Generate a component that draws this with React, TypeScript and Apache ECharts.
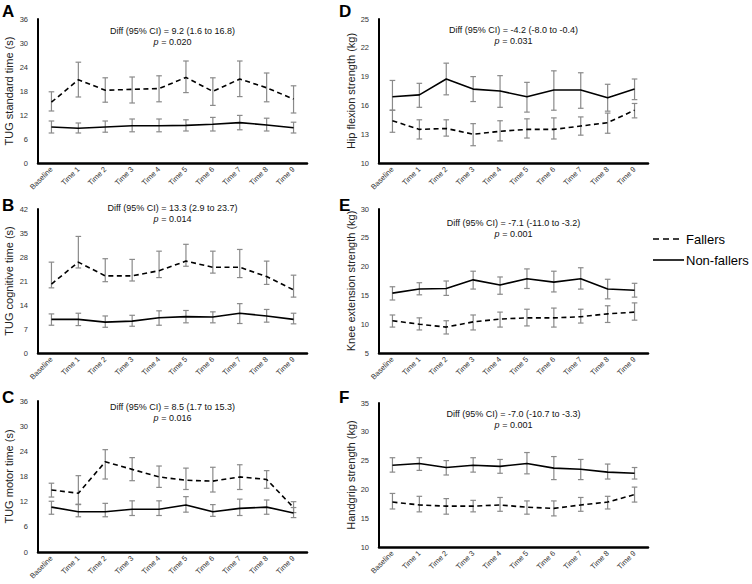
import React, { useEffect, useRef } from "react";
import * as echarts from "echarts";

const CATEGORIES = ["Baseline", "Time 1", "Time 2", "Time 3", "Time 4", "Time 5", "Time 6", "Time 7", "Time 8", "Time 9"];

// [mean, lower, upper]
const A_FALLERS = [[15.2, 13.0, 17.8], [20.8, 16.5, 25.2], [18.2, 15.2, 21.3], [18.4, 15.0, 21.5], [18.6, 15.3, 21.8], [21.4, 17.6, 25.5], [17.9, 14.4, 21.3], [21.0, 16.6, 25.5], [18.8, 15.3, 22.5], [16.0, 12.5, 19.3]];
const A_NON = [[9.0, 7.5, 10.5], [8.7, 7.5, 10.0], [9.0, 7.7, 10.5], [9.3, 7.8, 11.0], [9.3, 7.8, 11.0], [9.4, 8.0, 10.8], [9.7, 8.0, 11.4], [10.1, 8.3, 11.9], [9.5, 8.0, 11.2], [8.8, 7.5, 10.2]];
const B_FALLERS = [[20.1, 19.0, 26.5], [26.5, 24.8, 34.0], [22.5, 20.8, 27.5], [22.5, 21.0, 27.3], [24.0, 22.0, 29.7], [26.8, 25.3, 31.7], [25.0, 23.3, 29.7], [25.0, 22.0, 30.2], [22.3, 20.0, 26.8], [18.4, 16.3, 22.7]];
const B_NON = [[9.8, 8.1, 11.4], [9.8, 8.0, 11.6], [9.0, 7.5, 10.8], [9.3, 7.8, 11.0], [10.3, 8.1, 12.3], [10.6, 8.8, 12.4], [10.5, 8.8, 12.0], [11.6, 8.6, 14.4], [10.8, 9.0, 12.7], [9.8, 8.5, 11.6]];
const C_FALLERS = [[14.8, 13.1, 16.4], [14.0, 11.4, 18.2], [21.5, 17.4, 24.4], [19.7, 17.0, 22.5], [17.9, 15.4, 20.5], [17.1, 14.9, 20.0], [16.9, 14.3, 20.2], [17.9, 14.9, 20.8], [17.3, 15.2, 19.4], [10.6, 9.4, 12.0]];
const C_NON = [[10.7, 9.0, 12.1], [9.6, 8.4, 11.3], [9.6, 8.4, 11.6], [10.2, 8.7, 12.2], [10.2, 8.7, 12.2], [11.2, 9.5, 13.2], [9.6, 8.5, 11.3], [10.4, 8.7, 12.6], [10.7, 9.0, 12.4], [9.3, 8.2, 10.6]];
const D_FALLERS = [[14.4, 13.2, 15.5], [13.5, 12.5, 14.5], [13.6, 12.8, 14.5], [13.0, 11.8, 14.1], [13.3, 12.3, 14.4], [13.5, 12.6, 14.6], [13.5, 12.5, 14.7], [13.85, 12.9, 14.8], [14.2, 13.1, 15.2], [15.5, 14.7, 16.2]];
const D_NON = [[16.9, 15.5, 18.6], [17.1, 15.8, 18.3], [18.75, 17.1, 20.4], [17.7, 16.4, 19.0], [17.5, 15.8, 19.1], [16.9, 15.3, 18.4], [17.6, 15.5, 19.6], [17.6, 15.7, 19.4], [16.8, 15.4, 18.2], [17.7, 16.6, 18.75]];
const E_FALLERS = [[10.6, 9.5, 11.6], [10.0, 9.0, 11.1], [9.5, 8.3, 10.6], [10.4, 9.0, 11.6], [10.9, 9.5, 12.1], [11.1, 9.7, 12.6], [11.1, 9.5, 12.8], [11.3, 10.2, 12.6], [11.8, 10.3, 13.2], [12.1, 10.7, 13.7]];
const E_NON = [[15.4, 14.2, 16.5], [16.1, 15.1, 17.2], [16.2, 15.0, 17.5], [17.7, 16.1, 19.2], [16.8, 15.2, 18.2], [17.9, 16.2, 19.6], [17.3, 15.6, 19.2], [17.9, 16.1, 19.8], [16.1, 14.4, 17.8], [15.9, 14.7, 17.1]];
const F_FALLERS = [[17.8, 16.6, 19.3], [17.3, 16.1, 18.8], [17.1, 15.7, 18.4], [17.1, 16.1, 18.1], [17.3, 16.2, 18.6], [16.9, 15.7, 18.0], [16.7, 15.4, 18.0], [17.3, 16.2, 18.6], [17.8, 16.6, 18.8], [19.1, 17.8, 20.4]];
const F_NON = [[24.2, 23.0, 25.5], [24.5, 23.3, 25.5], [23.8, 22.5, 25.0], [24.2, 23.0, 25.5], [24.0, 22.8, 25.2], [24.5, 22.7, 26.4], [23.7, 21.7, 25.7], [23.5, 21.7, 25.2], [23.0, 21.8, 24.4], [22.8, 21.8, 23.8]];

const Y_RANGES = {
  A: [0, 36, 6], B: [0, 42, 7], C: [0, 36, 6],
  D: [10, 25, 3], E: [5, 30, 5], F: [10, 35, 5],
};
const Y_NAMES = {
  A: "TUG standard time (s)", B: "TUG cognitive time (s)", C: "TUG motor time (s)",
  D: "Hip flexion strength (kg)", E: "Knee extension strength (kg)", F: "Handgrip strength (kg)",
};
const DIFFS = {
  A: ["Diff (95% CI) = 9.2 (1.6 to 16.8)", "0.020"],
  B: ["Diff (95% CI) = 13.3 (2.9 to 23.7)", "0.014"],
  C: ["Diff (95% CI) = 8.5 (1.7 to 15.3)", "0.016"],
  D: ["Diff (95% CI) = -4.2 (-8.0 to -0.4)", "0.031"],
  E: ["Diff (95% CI) = -7.1 (-11.0 to -3.2)", "0.001"],
  F: ["Diff (95% CI) = -7.0 (-10.7 to -3.3)", "0.001"],
};
const LEGEND = ["Fallers", "Non-fallers"];

const FONT = "'Liberation Sans', Arial, Helvetica, sans-serif";

// layout
const LAYOUT = {
  A: { left: 38, top: 19, height: 144, letter: [2, 3], diffY: 31 },
  B: { left: 38, top: 209, height: 144, letter: [2, 197], diffY: 208 },
  C: { left: 38, top: 401, height: 151, letter: [2, 389], diffY: 407 },
  D: { left: 379, top: 19, height: 144, letter: [339, 3], diffY: 30 },
  E: { left: 379, top: 209, height: 144, letter: [339, 197], diffY: 223 },
  F: { left: 379, top: 403, height: 144, letter: [339, 389], diffY: 414 },
};
const PLOT_W = 269;

const DATA = {
  A: [A_FALLERS, A_NON], B: [B_FALLERS, B_NON], C: [C_FALLERS, C_NON],
  D: [D_FALLERS, D_NON], E: [E_FALLERS, E_NON], F: [F_FALLERS, F_NON],
};

function errRender(params: any, api: any) {
  const x = api.value(0);
  const lo = api.value(1);
  const hi = api.value(2);
  const a = api.coord([x, lo]);
  const b = api.coord([x, hi]);
  const cap = 2.8;
  const style = { stroke: "#8a8a8a", lineWidth: 1.2 };
  return {
    type: "group",
    children: [
      { type: "line", shape: { x1: a[0], y1: a[1], x2: b[0], y2: b[1] }, style },
      { type: "line", shape: { x1: a[0] - cap, y1: a[1], x2: a[0] + cap, y2: a[1] }, style },
      { type: "line", shape: { x1: b[0] - cap, y1: b[1], x2: b[0] + cap, y2: b[1] }, style },
    ],
  };
}

function buildOption() {
  const keys = ["A", "B", "C", "D", "E", "F"];
  const grid: any[] = [];
  const xAxis: any[] = [];
  const yAxis: any[] = [];
  const series: any[] = [];
  const graphic: any[] = [];

  keys.forEach((k, i) => {
    const L = (LAYOUT as any)[k];
    const [min, max, step] = (Y_RANGES as any)[k];
    const base = min;
    grid.push({ left: L.left, top: L.top, width: PLOT_W, height: L.height });
    xAxis.push({
      type: "category",
      gridIndex: i,
      data: CATEGORIES,
      boundaryGap: true,
      axisTick: { show: false },
      axisLine: { lineStyle: { color: "#000", width: 2.5 } },
      axisLabel: { rotate: 45, interval: 0, fontSize: 7.5, color: "#333", fontFamily: FONT, margin: 5 },
    });
    yAxis.push({
      type: "value",
      gridIndex: i,
      min: 0,
      max: max - min,
      interval: step,
      splitLine: { show: false },
      axisTick: { show: false },
      axisLine: { show: true, lineStyle: { color: "#000", width: 2 } },
      axisLabel: { fontSize: 7.5, color: "#333", fontFamily: FONT, margin: 10, formatter: (v: number) => String(v + base) },
      name: (Y_NAMES as any)[k],
      nameLocation: "middle",
      nameGap: i < 3 ? 24 : 21,
      nameTextStyle: { fontSize: 11, color: "#222", fontFamily: FONT },
    });
    const [fallers, non] = (DATA as any)[k];
    [fallers, non].forEach((arr: number[][], j: number) => {
      series.push({
        type: "custom",
        xAxisIndex: i,
        yAxisIndex: i,
        renderItem: errRender,
        encode: { x: 0, y: [1, 2] },
        data: arr.map((d, idx) => [idx, d[1] - base, d[2] - base]),
        z: 1,
        silent: true,
      });
      series.push({
        type: "line",
        name: LEGEND[j],
        xAxisIndex: i,
        yAxisIndex: i,
        data: arr.map((d) => d[0] - base),
        symbol: "none",
        lineStyle: { color: "#000", width: 1.6, type: j === 0 ? [5, 3.5] : "solid" },
        z: 3,
        silent: true,
      });
    });

    const cx = L.left + PLOT_W / 2;
    const [diff, p] = (DIFFS as any)[k];
    graphic.push({
      type: "text",
      x: cx,
      y: L.diffY,
      style: { text: diff, fontSize: 9, fontFamily: FONT, fill: "#111", align: "center", verticalAlign: "middle" },
    });
    graphic.push({
      type: "text",
      x: cx,
      y: L.diffY + 10.5,
      style: {
        text: "{i|p} = " + p,
        fontSize: 9,
        fontFamily: FONT,
        fill: "#111",
        align: "center",
        verticalAlign: "middle",
        rich: { i: { fontStyle: "italic", fontSize: 9, fontFamily: FONT, fill: "#111" } },
      },
    });
    graphic.push({
      type: "text",
      x: L.letter[0],
      y: L.letter[1],
      style: { text: k, fontSize: 17, fontWeight: "bold", fontFamily: FONT, fill: "#000", align: "left", verticalAlign: "top" },
    });
  });

  // legend
  const lx = 653;
  graphic.push({
    type: "line",
    shape: { x1: lx, y1: 239, x2: lx + 30, y2: 239 },
    style: { stroke: "#000", lineWidth: 1.6, lineDash: [6, 4] },
  });
  graphic.push({
    type: "text",
    x: lx + 33,
    y: 239,
    style: { text: LEGEND[0], fontSize: 13, fontFamily: FONT, fill: "#000", align: "left", verticalAlign: "middle" },
  });
  graphic.push({
    type: "line",
    shape: { x1: lx, y1: 260, x2: lx + 31, y2: 260 },
    style: { stroke: "#000", lineWidth: 1.6 },
  });
  graphic.push({
    type: "text",
    x: lx + 33,
    y: 260,
    style: { text: LEGEND[1], fontSize: 13, fontFamily: FONT, fill: "#000", align: "left", verticalAlign: "middle" },
  });

  return {
    animation: false,
    backgroundColor: "#fff",
    textStyle: { fontFamily: FONT },
    grid,
    xAxis,
    yAxis,
    series,
    graphic,
  };
}

export default function App() {
  const ref = useRef<HTMLDivElement>(null);
  useEffect(() => {
    if (!ref.current) return;
    const chart = echarts.init(ref.current, null, { renderer: "svg" });
    chart.setOption(buildOption() as any);
    return () => chart.dispose();
  }, []);
  return <div ref={ref} style={{ position: "absolute", left: 0, top: 0, width: 752, height: 584, background: "#fff" }} />;
}
